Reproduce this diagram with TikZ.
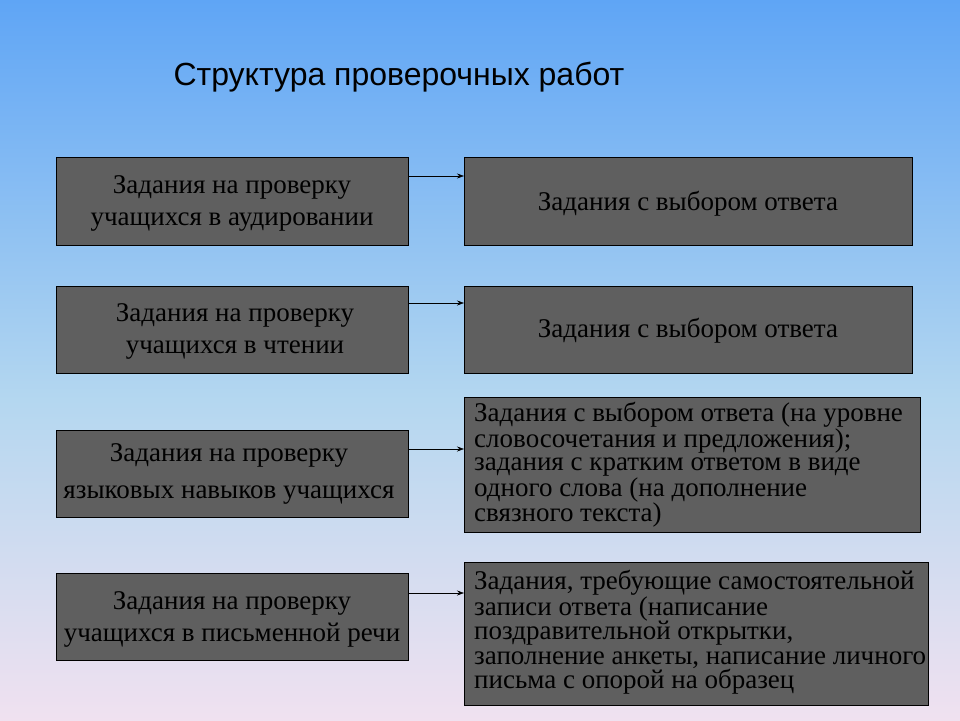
\documentclass[tikz,border=0pt]{standalone}
\usepackage{fontspec}
\setmainfont{Liberation Serif}
\newfontfamily\titlefont{Liberation Sans}
\usetikzlibrary{calc,arrows.meta}
\definecolor{boxgray}{RGB}{95,95,95}
\tikzset{
 box/.style={draw=black, fill=boxgray, line width=0.8pt, inner sep=0pt},
 lbox/.style={box},
 conn/.style={-{Stealth[length=7pt,width=5pt]}, line width=0.6pt}
}
\begin{document}
\begin{tikzpicture}[x=1pt,y=-1pt]
\shade[top color={rgb,255:red,95;green,165;blue,245}, bottom color={rgb,255:red,180;green,215;blue,240}] (0,0) rectangle (960,400);
\shade[top color={rgb,255:red,180;green,215;blue,240}, bottom color={rgb,255:red,240;green,225;blue,240}] (0,400) rectangle (960,720);
\useasboundingbox (0,0) rectangle (960,720);
\node[anchor=west, font=\titlefont\fontsize{32}{36}\selectfont] (title) at (170,77) {Структура проверочных работ};
% left boxes
\node[lbox, minimum width=352pt, minimum height=88pt, anchor=north west] (L1) at (56,157) {};
\node[align=center, font=\fontsize{27}{32}\selectfont] (t1) at (232,203) {Задания на проверку\\учащихся в аудировании};
\node[lbox, minimum width=352pt, minimum height=87pt, anchor=north west] (L2) at (56,286) {};
\node[align=center, font=\fontsize{27}{32}\selectfont] (t2) at (235,331) {Задания на проверку\\учащихся в чтении};
\node[lbox, minimum width=352pt, minimum height=87pt, anchor=north west] (L3) at (56,430) {};
\node[align=center, font=\fontsize{27}{37}\selectfont] (t3) at (229,474) {Задания на проверку\\языковых навыков учащихся};
\node[lbox, minimum width=352pt, minimum height=87pt, anchor=north west] (L4) at (56,573) {};
\node[align=center, font=\fontsize{27}{32}\selectfont] (t4) at (232,619) {Задания на проверку\\учащихся в письменной речи};
% right boxes
\node[box, minimum width=448pt, minimum height=88pt, anchor=north west] (R1) at (464,157) {};
\node[font=\fontsize{27}{30}\selectfont] (u1) at (688,204) {Задания с выбором ответа};
\node[box, minimum width=448pt, minimum height=87pt, anchor=north west] (R2) at (464,286) {};
\node[font=\fontsize{27}{30}\selectfont] (u2) at (688,331) {Задания с выбором ответа};
\node[box, minimum width=456pt, minimum height=135pt, anchor=north west] (R3) at (464,397) {};
\node[anchor=north west, align=left, font=\fontsize{27}{23.5}\selectfont, inner sep=0pt] (u3) at (474,402) {Задания с выбором ответа (на уровне\\словосочетания и предложения);\\задания с кратким ответом в виде\\одного слова (на дополнение\\связного текста)};
\node[box, minimum width=464pt, minimum height=143pt, anchor=north west] (R4) at (464,562) {};
\node[anchor=north west, align=left, font=\fontsize{27}{24.5}\selectfont, inner sep=0pt] (u4) at (474,570) {Задания, требующие самостоятельной\\записи ответа (написание\\поздравительной открытки,\\заполнение анкеты, написание личного\\письма с опорой на образец};
% connectors
\draw[conn] ($(L1.north east)+(0,19)$) coordinate (a1) -- (a1 -| R1.west);
\draw[conn] ($(L2.north east)+(0,17)$) coordinate (a2) -- (a2 -| R2.west);
\draw[conn] ($(L3.north east)+(0,19)$) coordinate (a3) -- (a3 -| R3.west);
\draw[conn] ($(L4.north east)+(0,20)$) coordinate (a4) -- (a4 -| R4.west);
\end{tikzpicture}
\end{document}
